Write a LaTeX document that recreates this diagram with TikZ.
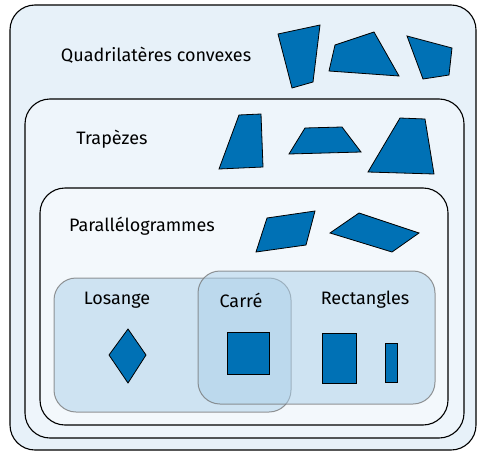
\documentclass[tikz,border=0pt]{standalone}
\usepackage{fontspec}
\setmainfont{Fira Sans}
\definecolor{bgA}{HTML}{E7F1F9}
\definecolor{bgB}{HTML}{EEF5FB}
\definecolor{bgC}{HTML}{F3F8FC}
\definecolor{setfill}{RGB}{171,208,234}
\definecolor{shapeblue}{HTML}{0071B5}
\tikzset{
  frame/.style={draw=black, line width=1.1pt, rounded corners=25pt},
  setbox/.style={draw=gray!90!black, draw opacity=0.75, line width=1pt, fill=setfill, fill opacity=0.5, rounded corners=22pt},
  quad/.style={fill=shapeblue, draw=black, line width=0.8pt, line join=miter},
  lbl/.style={font=\fontsize{18}{21}\selectfont, inner sep=0pt, text=black},
}
\begin{document}
\begin{tikzpicture}[x=1pt,y=-1pt]
\useasboundingbox (0,0) rectangle (478,452);
% frames
\draw[frame, fill=bgA] (10,5) rectangle (476,450);
\draw[frame, fill=bgB] (25,99) rectangle (464,438);
\draw[frame, fill=bgC] (40,188) rectangle (448,425);
% overlapping sets
\draw[setbox] (54,278) rectangle (291,412);
\draw[setbox] (198,271) rectangle (435,404);
% labels
\node[lbl] (quadlbl) at (156,55) {Quadrilatères convexes};
\node[lbl] (traplbl) at (112,139) {Trapèzes};
\node[lbl] (paralbl) at (142,226) {Parallélogrammes};
\node[lbl] (loslbl) at (117,300) {Losange};
\node[lbl] (carlbl) at (241,300) {Carré};
\node[lbl] (reclbl) at (365,300) {Rectangles};
% convex quadrilaterals
\draw[quad] (278,34) -- (320,25) -- (313,82) -- (292,88) -- cycle;
\draw[quad] (335,45) -- (374,32) -- (399,76) -- (329,71) -- cycle;
\draw[quad] (407,36) -- (452,48) -- (449,75) -- (423,79) -- cycle;
% trapezes
\draw[quad] (239,115) -- (261,114) -- (263,167) -- (219,169) -- cycle;
\draw[quad] (305,128) -- (342,127) -- (361,152) -- (289,154) -- cycle;
\draw[quad] (400,118) -- (425,119) -- (434,174) -- (368,172) -- cycle;
% parallelograms
\draw[quad] (267,218) -- (315,211) -- (306,245) -- (256,252) -- cycle;
\draw[quad] (359,213) -- (419,233) -- (392,252) -- (330,233) -- cycle;
% losange
\draw[quad] (128,329) -- (146,355) -- (128,383) -- (109,355) -- cycle;
% square
\draw[quad] (227,332) rectangle (269,374);
% rectangles
\draw[quad] (322,333) rectangle (356,383);
\draw[quad] (385,343) rectangle (397,382);
\end{tikzpicture}
\end{document}
